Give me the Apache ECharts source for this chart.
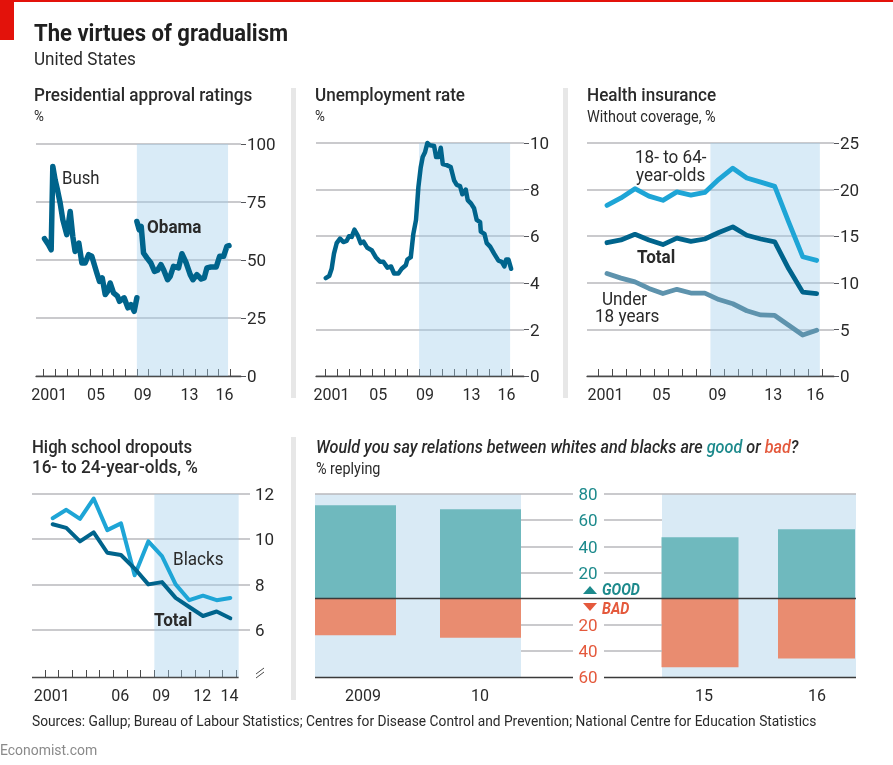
<!DOCTYPE html>
<html>
<head>
<meta charset="utf-8">
<title>The virtues of gradualism</title>
<style>
  html, body { margin: 0; padding: 0; background: #fff; }
  #main { width: 893px; height: 765px; }
</style>
</head>
<body>
<div id="main"></div>
<script src="https://cdn.jsdelivr.net/npm/echarts@6/dist/echarts.min.js"></script>
<script>
// presidential approval
const bushDates = [2001.09, 2001.43, 2001.66, 2001.8, 2002, 2002.2, 2002.43, 2002.66, 2003, 2003.29, 2003.51, 2003.71, 2004.03, 2004.29, 2004.57, 2004.86, 2005.14, 2005.57, 2005.8, 2006.03, 2006.29, 2006.49, 2006.71, 2007, 2007.34, 2007.51, 2007.91, 2008.23, 2008.49, 2008.77, 2009]
const bushApproval = [59.2, 56.6, 54.4, 90.3, 84.5, 80.2, 74.5, 67.3, 60.9, 70.9, 60.2, 53.7, 57.3, 48.7, 48.7, 52.3, 51.6, 44.4, 40.8, 42.3, 35.1, 36.5, 40.1, 35.8, 34.4, 32.2, 33.7, 29.4, 30.8, 27.9, 33.7]
const obamaDates = [2009, 2009.2, 2009.37, 2009.57, 2009.86, 2010.2, 2010.51, 2010.77, 2011.06, 2011.29, 2011.63, 2011.86, 2012.14, 2012.57, 2012.86, 2013.23, 2013.57, 2013.8, 2014.14, 2014.51, 2014.77, 2015, 2015.34, 2015.8, 2016.09, 2016.43, 2016.71, 2016.89]
const obamaApproval = [66.6, 63, 64.5, 53, 50.9, 48.7, 45.1, 45.6, 48, 45.8, 41.5, 43, 47.3, 46.6, 52.7, 48.7, 43.7, 41.5, 43.7, 41.8, 42.3, 46.6, 47, 47, 51.6, 51.6, 55.9, 56.2]

// unemployment
const jobDates = [2001, 2001.31, 2001.51, 2001.71, 2001.94, 2002.23, 2002.51, 2002.8, 2003, 2003.23, 2003.46, 2003.74, 2004, 2004.23, 2004.57, 2004.94, 2005.29, 2005.66, 2005.94, 2006.29, 2006.6, 2006.86, 2007.23, 2007.51, 2007.86, 2008, 2008.29, 2008.51, 2008.74, 2008.94, 2009.14, 2009.31, 2009.51, 2009.71, 2009.94, 2010.29, 2010.46, 2010.69, 2010.86, 2011.03, 2011.37, 2011.71, 2012, 2012.23, 2012.51, 2012.71, 2013, 2013.17, 2013.46, 2013.71, 2013.94, 2014.23, 2014.29, 2014.6, 2014.8, 2015.09, 2015.43, 2015.8, 2016.09, 2016.31, 2016.46, 2016.66, 2016.89]
const jobRate = [4.2, 4.3, 4.6, 5.25, 5.7, 5.9, 5.75, 5.8, 6, 5.97, 6.28, 6.04, 5.7, 5.77, 5.5, 5.4, 5.1, 4.9, 4.9, 4.65, 4.7, 4.4, 4.4, 4.6, 4.75, 5, 5.1, 6.1, 6.7, 8.1, 8.95, 9.4, 9.6, 10, 9.9, 9.87, 9.4, 9.4, 9.8, 9.1, 9.05, 8.97, 8.4, 8.2, 8.15, 7.8, 8, 7.55, 7.4, 7.2, 6.7, 6.6, 6.2, 6.1, 5.7, 5.55, 5.25, 4.95, 4.9, 4.7, 5, 5, 4.6]

// health insurance, mid-year figures
const healthYears = [2001.6, 2002.6, 2003.6, 2004.6, 2005.6, 2006.6, 2007.6, 2008.6, 2009.6, 2010.6, 2011.6, 2012.6, 2013.6, 2014.6, 2015.6, 2016.6]
const adults = [18.3, 19.1, 20.1, 19.3, 18.85, 19.75, 19.4, 19.7, 21.1, 22.3, 21.25, 20.8, 20.35, 16.5, 12.8, 12.4]
const allAges = [14.3, 14.6, 15.2, 14.6, 14.1, 14.8, 14.45, 14.7, 15.4, 16, 15.1, 14.7, 14.4, 11.5, 9, 8.85]
const children = [11, 10.5, 10.1, 9.4, 8.85, 9.3, 8.9, 8.9, 8.2, 7.75, 7, 6.55, 6.5, 5.45, 4.4, 4.9]

// dropouts
const dropYears = [2001.56, 2002.56, 2003.56, 2004.56, 2005.56, 2006.56, 2007.56, 2008.56, 2009.56, 2010.56, 2011.56, 2012.56, 2013.56, 2014.56]
const dropBlacks = [10.93, 11.3, 10.9, 11.8, 10.4, 10.7, 8.4, 9.9, 9.25, 8, 7.3, 7.5, 7.3, 7.4]
const dropTotal = [10.66, 10.5, 9.9, 10.3, 9.4, 9.3, 8.7, 8, 8.1, 7.4, 7, 6.6, 6.8, 6.5]

// race relations poll
const pollYears = ['2009', '10', '15', '16']
const pollGood = [71.4, 68.3, 47, 53]
const pollBad = [28, 30, 52.6, 45.8]

// axis ticks
const decadeTicks = [2001, 2002, 2003, 2004, 2005, 2006, 2007, 2008, 2009, 2010, 2011, 2012, 2013, 2014, 2015, 2016, 2017]
const decadeLabels = ['2001', '05', '09', '13', '16']
const decadeLabelAt = [2001.5, 2005.5, 2009.5, 2013.5, 2016.5]
const dropTicks = [2001, 2002, 2003, 2004, 2005, 2006, 2007, 2008, 2009, 2010, 2011, 2012, 2013, 2014, 2015]
const dropLabels = ['2001', '06', '09', '12', '14']
const dropLabelAt = [2001.5, 2006.5, 2009.5, 2012.5, 2014.5]
const dropGridValues = [6, 8, 10, 12]

const font = 'Roboto'
const ink = '#2a2a2a'
const gridGrey = '#b9b9bc'
const axisInk = '#4a4a4a'
const shadeTint = 'rgba(160,205,235,0.4)'
const shadeSolid = '#d9eaf5'
const deep = '#00648c'
const sky = '#1ea5d6'
const slate = '#5e93ad'
const teal = '#1d8a8c'
const coral = '#e4593c'
const narrow = 0.9

// y labels sit a little high in this face, pull them onto their gridlines
const yLabelNudge = { verticalAlign: 'top', padding: [-6.5, 0, 0, 0] }

const chart = echarts.init(document.getElementById('main'), null, { renderer: 'canvas' })

function pairs(xs, ys) {
  return xs.map((x, i) => [x, ys[i]])
}

// one line panel: grid box, x range, y range
function panel(i, box, xMin, xMax, yOpts, ticks, labelAt, labels) {
  return {
    grid: { left: box[0], top: box[1], width: box[2] - box[0], height: box[3] - box[1] },
    xAxis: {
      type: 'value', gridIndex: i, min: xMin, max: xMax,
      splitLine: { show: false },
      axisLine: { show: i !== 3, onZero: false, lineStyle: { color: axisInk, width: 1.3 } },
      axisTick: { show: true, inside: true, length: 7, customValues: ticks, lineStyle: { color: axisInk, width: 1 } },
      axisLabel: {
        customValues: labelAt, margin: 12, color: ink, fontFamily: font, fontSize: 16,
        formatter: v => labels[labelAt.indexOf(v)]
      }
    },
    yAxis: Object.assign({
      type: 'value', gridIndex: i, position: 'right',
      axisLine: { show: false },
      splitLine: { show: true, lineStyle: { color: gridGrey, width: 1.6 } },
      axisLabel: Object.assign({ margin: 6, color: ink, fontFamily: font, fontSize: 17 }, yLabelNudge)
    }, yOpts)
  }
}

function lineOf(i, data, color, width) {
  return {
    type: 'line', xAxisIndex: i, yAxisIndex: i, data, z: 3, clip: false,
    showSymbol: false, silent: true,
    lineStyle: { color, width, join: 'round', cap: 'round' }
  }
}

function shadeOf(i, from, to) {
  return {
    type: 'line', xAxisIndex: i, yAxisIndex: i, data: [], z: 1, silent: true,
    markArea: { silent: true, itemStyle: { color: shadeTint }, data: [[{ xAxis: from, yAxis: 'min' }, { xAxis: to, yAxis: 'max' }]] }
  }
}

const panels = [
  panel(0, [36, 144, 241, 376], 2000.36, 2017.92, { min: 0, max: 100, interval: 25 }, decadeTicks, decadeLabelAt, decadeLabels),
  panel(1, [316, 143, 524, 376], 2000.17, 2017.99, { min: 0, max: 10, interval: 2 }, decadeTicks, decadeLabelAt, decadeLabels),
  panel(2, [587, 143, 834, 376], 2000.17, 2017.84, { min: 0, max: 25, interval: 5 }, decadeTicks, decadeLabelAt, decadeLabels),
  panel(3, [32, 494, 250, 677], 2000.05, 2016, {
    min: 3.9, max: 12,
    axisTick: { show: false, customValues: dropGridValues },
    axisLabel: Object.assign({ margin: 5, color: ink, fontFamily: font, fontSize: 17, customValues: dropGridValues }, yLabelNudge)
  }, dropTicks, dropLabelAt, dropLabels)
]

// poll panel: x runs in slots across the box, y is good up and bad down
const pollBox = [315, 494, 856, 677]
const pollBarAt = [40.5, 165.5, 385, 501.5]
const pollTickAt = [47, 165, 388, 500]
const pollLabelAt = [48, 165, 389, 502]
const pollRows = [60, 40, 20, -20, -40]
const gapLeft = 258
const gapRight = 289

function seg(x0, x1, y) {
  return [{ xAxis: x0, yAxis: y }, { xAxis: x1, yAxis: y }]
}

const pollLines = []
pollRows.forEach(y => {
  pollLines.push(seg(206, gapLeft, y), seg(gapRight, 347, y))
})
pollLines.push(seg(0, gapLeft, 80), seg(gapRight, 541, 80))

const pollAxisLines = [seg(0, gapLeft, -60), seg(gapRight, 541, -60), seg(0, 541, 0)]

// the two pairs of bars differ in width, so each pair sits on its own x axis
function pollBars(axisIndex, from, to, width) {
  const slots = pollBarAt.slice(from, to)
  const mk = (vals, sign, color) => ({
    type: 'bar', xAxisIndex: axisIndex, yAxisIndex: 4, barWidth: width, z: 3, silent: true,
    stack: 'poll' + axisIndex,
    data: slots.map((x, i) => [x, sign * vals[from + i]]),
    itemStyle: { color }
  })
  return [mk(pollGood, 1, '#6fb9be'), mk(pollBad, -1, '#e98c70')]
}

const series = [
  shadeOf(0, 2009, 2016.81),
  lineOf(0, pairs(bushDates, bushApproval), deep, 5.5),
  lineOf(0, pairs(obamaDates, obamaApproval), deep, 5.5),
  shadeOf(1, 2009, 2016.8),
  lineOf(1, pairs(jobDates, jobRate), deep, 4.5),
  shadeOf(2, 2009, 2016.83),
  lineOf(2, pairs(healthYears, adults), sky, 4.8),
  lineOf(2, pairs(healthYears, allAges), deep, 4.8),
  lineOf(2, pairs(healthYears, children), slate, 4.8),
  shadeOf(3, 2009, 2015.17),
  lineOf(3, pairs(dropYears, dropBlacks), sky, 4),
  lineOf(3, pairs(dropYears, dropTotal), deep, 4),
  {
    type: 'line', xAxisIndex: 3, yAxisIndex: 3, data: [], z: 2, silent: true,
    markLine: {
      silent: true, symbol: 'none', label: { show: false }, animation: false,
      lineStyle: { color: axisInk, width: 1.3, type: 'solid' },
      data: [[{ xAxis: 2000.05, yAxis: 3.9 }, { xAxis: 2015.17, yAxis: 3.9 }]]
    }
  },
  {
    type: 'line', xAxisIndex: 4, yAxisIndex: 4, data: [], z: 1, silent: true,
    markArea: {
      silent: true, itemStyle: { color: shadeSolid },
      data: [[{ xAxis: 0, yAxis: 'min' }, { xAxis: 206, yAxis: 'max' }], [{ xAxis: 347, yAxis: 'min' }, { xAxis: 541, yAxis: 'max' }]]
    },
    markLine: {
      silent: true, symbol: 'none', label: { show: false }, animation: false,
      lineStyle: { color: gridGrey, width: 1.6, type: 'solid' },
      data: pollLines
    }
  },
  ...pollBars(4, 0, 2, 81),
  ...pollBars(5, 2, 4, 77),
  {
    type: 'line', xAxisIndex: 4, yAxisIndex: 4, data: [], z: 5, silent: true,
    markLine: {
      silent: true, symbol: 'none', label: { show: false }, animation: false,
      lineStyle: { color: '#3a3a3a', width: 1.3, type: 'solid' },
      data: pollAxisLines
    }
  }
]

// real text squeezed sideways to sit close to the narrow house face
function txt(x, y, text, size, opts) {
  return {
    type: 'text', silent: true, z: 20, x, y: y + 1.5, scaleX: narrow,
    style: Object.assign({
      x: 0, y: 0, text, fill: ink, fontFamily: font, fontSize: size,
      textVerticalAlign: 'middle', textAlign: 'left'
    }, opts || {})
  }
}

function rect(x, y, w, h, fill) {
  return { type: 'rect', silent: true, z: 0, shape: { x, y, width: w, height: h }, style: { fill } }
}

const graphics = [
  rect(0, 0, 893, 2, '#e3120b'),
  rect(0, 0, 14, 40, '#e3120b'),
  rect(291, 88, 5, 310, '#e7e7e7'),
  rect(563, 88, 5, 310, '#e7e7e7'),
  rect(291, 437, 5, 263, '#e7e7e7'),

  txt(34, 33, 'The virtues of gradualism', 24.5, { fontWeight: 'bold', fill: '#1f1f1f' }),
  txt(34, 59, 'United States', 19),
  txt(34, 95, 'Presidential approval ratings', 19, { fontWeight: 500 }),
  txt(34, 116, '%', 15),
  txt(315, 95, 'Unemployment rate', 19, { fontWeight: 500 }),
  txt(315, 116, '%', 15),
  txt(587, 95, 'Health insurance', 19, { fontWeight: 500 }),
  txt(587, 116, 'Without coverage, %', 16),
  txt(32, 447, 'High school dropouts', 18.6, { fontWeight: 500 }),
  txt(32, 467, '16- to 24-year-olds, %', 19, { fontWeight: 500 }),
  {
    type: 'text', silent: true, z: 20, x: 316, y: 448.5, scaleX: narrow,
    style: {
      x: 0, y: 0, textVerticalAlign: 'middle',
      text: 'Would you say relations between whites and blacks are {g|good} or {b|bad}?',
      fill: ink, fontFamily: font, fontSize: 18, fontStyle: 'italic', fontWeight: 500,
      rich: {
        g: { fill: teal, fontFamily: font, fontSize: 18, fontStyle: 'italic', fontWeight: 500 },
        b: { fill: coral, fontFamily: font, fontSize: 18, fontStyle: 'italic', fontWeight: 500 }
      }
    }
  },
  txt(316, 468, '% replying', 16),

  txt(62, 178, 'Bush', 18.6),
  txt(147, 227, 'Obama', 19, { fontWeight: 'bold' }),
  txt(635, 157, '18- to 64-', 19),
  txt(636, 175, 'year-olds', 19),
  txt(637, 257, 'Total', 19, { fontWeight: 'bold' }),
  txt(602, 299, 'Under', 19),
  txt(595, 316, '18 years', 19),
  txt(173, 559, 'Blacks', 19),
  txt(154, 620, 'Total', 19, { fontWeight: 'bold' }),

  // axis break on the dropouts panel
  { type: 'line', silent: true, z: 20, shape: { x1: 256, y1: 674, x2: 264, y2: 668 }, style: { stroke: axisInk, lineWidth: 1 } },
  { type: 'line', silent: true, z: 20, shape: { x1: 256, y1: 678, x2: 264, y2: 672 }, style: { stroke: axisInk, lineWidth: 1 } },

  // good and bad key in the gap of the poll panel
  { type: 'polygon', silent: true, z: 20, shape: { points: [[583, 594], [597, 594], [590, 586]] }, style: { fill: teal } },
  { type: 'polygon', silent: true, z: 20, shape: { points: [[583, 603], [597, 603], [590, 611]] }, style: { fill: coral } },
  txt(602, 589, 'GOOD', 16, { fill: teal, fontWeight: 'bold', fontStyle: 'italic' }),
  txt(602, 608, 'BAD', 16, { fill: coral, fontWeight: 'bold', fontStyle: 'italic' }),

  txt(32, 721, 'Sources: Gallup; Bureau of Labour Statistics; Centres for Disease Control and Prevention; National Centre for Education Statistics', 15.3),
  txt(0, 750, 'Economist.com', 15.5, { fill: '#8a8a8a' })
]

chart.setOption({
  backgroundColor: '#fff',
  animation: false,
  grid: panels.map(p => p.grid).concat([{
    left: pollBox[0], top: pollBox[1], width: pollBox[2] - pollBox[0], height: pollBox[3] - pollBox[1]
  }]),
  xAxis: panels.map(p => p.xAxis).concat([{
    type: 'value', gridIndex: 4, min: 0, max: 541,
    splitLine: { show: false },
    axisLine: { show: false },
    axisTick: { show: true, inside: true, length: 10, customValues: pollTickAt, lineStyle: { color: axisInk, width: 1 } },
    axisLabel: {
      customValues: pollLabelAt, margin: 12, color: ink, fontFamily: font, fontSize: 16,
      formatter: v => pollYears[pollLabelAt.indexOf(v)]
    }
  }, {
    type: 'value', gridIndex: 4, min: 0, max: 541, show: false
  }]),
  yAxis: panels.map(p => p.yAxis).concat([{
    type: 'value', gridIndex: 4, min: -60, max: 80, interval: 20,
    position: 'left', offset: -273,
    axisLine: { show: false },
    axisTick: { show: false },
    splitLine: { show: false },
    axisLabel: Object.assign({
      margin: 0, align: 'center', fontFamily: font, fontSize: 17,
      color: v => (v > 0 ? teal : coral),
      formatter: v => (v === 0 ? '' : String(Math.abs(v)))
    }, yLabelNudge)
  }]),
  series,
  graphic: graphics
})
</script>
</body>
</html>
